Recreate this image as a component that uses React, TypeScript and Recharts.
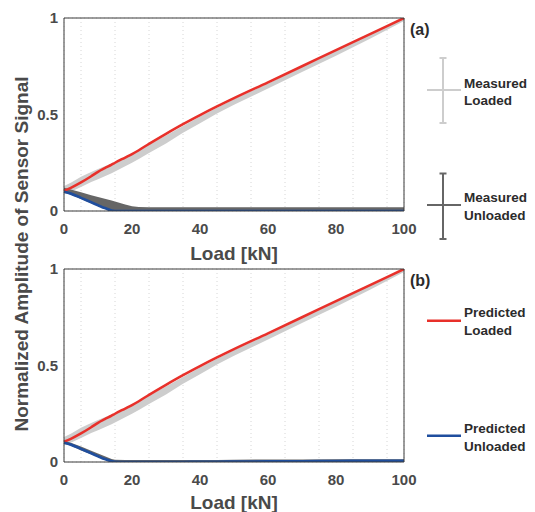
import React from 'react';
import {
  ComposedChart, Line, Area, XAxis, YAxis, CartesianGrid,
} from 'recharts';

const loads = [0, 2, 5, 8, 10, 12, 14, 15, 18, 20, 22, 25, 30, 35, 40, 45, 50, 60, 70, 80, 90, 100];

const predLoaded = [0.105, 0.12, 0.148, 0.18, 0.203, 0.222, 0.24, 0.25, 0.277, 0.295, 0.315, 0.348, 0.4, 0.45, 0.497, 0.542, 0.585, 0.667, 0.75, 0.834, 0.917, 1.0];

const measLoadedLow = [0.09, 0.1, 0.125, 0.15, 0.165, 0.18, 0.195, 0.205, 0.232, 0.25, 0.27, 0.3, 0.35, 0.405, 0.455, 0.505, 0.55, 0.635, 0.72, 0.805, 0.893, 0.985];
const measLoadedHigh = [0.13, 0.147, 0.177, 0.202, 0.217, 0.232, 0.246, 0.254, 0.281, 0.299, 0.316, 0.344, 0.391, 0.44, 0.49, 0.535, 0.58, 0.66, 0.745, 0.83, 0.915, 1.003];

const predUnloadedA = [0.1, 0.09, 0.068, 0.045, 0.03, 0.015, 0.002, 0, 0, 0, 0, 0, 0, 0, 0, 0, 0, 0, 0, 0, 0, 0];
const predUnloadedB = [0.1, 0.09, 0.068, 0.045, 0.03, 0.015, 0.004, 0.001, 0, 0, 0, 0, 0, 0, 0.001, 0.001, 0.002, 0.003, 0.004, 0.005, 0.006, 0.006];

const measUnloadedLowA = [0.095, 0.085, 0.062, 0.04, 0.027, 0.013, 0, 0, 0, 0, 0, 0, 0, 0, 0, 0, 0, 0, 0, 0, 0, 0];
const measUnloadedHighA = [0.12, 0.112, 0.097, 0.082, 0.072, 0.064, 0.054, 0.049, 0.034, 0.025, 0.021, 0.019, 0.019, 0.019, 0.019, 0.019, 0.019, 0.019, 0.019, 0.019, 0.019, 0.019];

const measUnloadedLowB = [0.095, 0.085, 0.06, 0.04, 0.027, 0.013, 0, 0, 0, 0, 0, 0, 0, 0, 0, 0, 0, 0, 0, 0, 0, 0];
const measUnloadedHighB = [0.11, 0.1, 0.08, 0.058, 0.044, 0.03, 0.016, 0.012, 0.01, 0.01, 0.01, 0.01, 0.01, 0.01, 0.01, 0.011, 0.012, 0.013, 0.013, 0.014, 0.014, 0.014];

const xTicks = [0, 20, 40, 60, 80, 100];
const yTicks = [0, 0.5, 1];
const xGrid = [5, 10, 15, 20, 25, 30, 35, 40, 45, 50, 55, 60, 65, 70, 75, 80, 85, 90, 95];
const yGrid = [0.1, 0.2, 0.3, 0.4, 0.5, 0.6, 0.7, 0.8, 0.9];

const FONT = '"Liberation Sans", Arial, Helvetica, sans-serif';
const TICK_COLOR = '#4a4a4a';
const AXIS_COLOR = '#3a3a3a';
const RED = '#e8302a';
const BLUE = '#1f4e9e';
const LIGHT = '#cdcdcd';
const DARK = '#666666';

function buildRows(pu: number[], muLo: number[], muHi: number[]) {
  return loads.map((x, i) => ({
    x,
    pl: predLoaded[i],
    ml: [measLoadedLow[i], measLoadedHigh[i]],
    pu: pu[i],
    mu: [muLo[i], muHi[i]],
  }));
}

const rowsA = buildRows(predUnloadedA, measUnloadedLowA, measUnloadedHighA);
const rowsB = buildRows(predUnloadedB, measUnloadedLowB, measUnloadedHighB);

const yFmt = (v: number) => (v === 0 ? '0' : v === 1 ? '1' : String(v));

function Panel({ top, rows }: { top: number; rows: any[] }) {
  const tickStyle = { fontFamily: FONT, fontSize: 15, fontWeight: 700, fill: TICK_COLOR };
  return (
    <div style={{ position: 'absolute', left: 0, top }}>
      <ComposedChart
        width={420}
        height={260}
        data={rows}
        margin={{ top: 18, right: 16, bottom: 19, left: 34 }}
      >
        <XAxis xAxisId="g" dataKey="x" type="number" domain={[0, 100]} ticks={xGrid} hide />
        <YAxis yAxisId="g" type="number" domain={[0, 1]} ticks={yGrid} hide />
        <CartesianGrid
          xAxisId="g"
          yAxisId="g"
          stroke="#d6d6d6"
          strokeDasharray="1 3"
          strokeWidth={1}
        />
        <XAxis
          dataKey="x"
          type="number"
          domain={[0, 100]}
          ticks={xTicks}
          height={30}
          tickLine={false}
          tickSize={6}
          tickMargin={6}
          axisLine={{ stroke: AXIS_COLOR, strokeWidth: 1 }}
          tick={tickStyle}
        />
        <YAxis
          type="number"
          domain={[0, 1]}
          ticks={yTicks}
          width={30}
          tickLine={false}
          tickSize={3}
          tickMargin={3}
          allowDataOverflow
          tickFormatter={yFmt}
          axisLine={{ stroke: AXIS_COLOR, strokeWidth: 1 }}
          tick={tickStyle}
        />
        <XAxis
          xAxisId="bi"
          dataKey="x"
          type="number"
          domain={[0, 100]}
          ticks={xTicks}
          mirror
          tick={false}
          tickSize={4}
          axisLine={false}
          tickLine={{ stroke: AXIS_COLOR }}
        />
        <XAxis
          xAxisId="t"
          orientation="top"
          dataKey="x"
          type="number"
          domain={[0, 100]}
          ticks={xTicks}
          mirror
          tick={false}
          tickSize={4}
          axisLine={{ stroke: AXIS_COLOR, strokeWidth: 1 }}
          tickLine={{ stroke: AXIS_COLOR }}
        />
        <YAxis
          yAxisId="li"
          type="number"
          domain={[0, 1]}
          ticks={yTicks}
          mirror
          tick={false}
          tickSize={4}
          axisLine={false}
          tickLine={{ stroke: AXIS_COLOR }}
        />
        <YAxis
          yAxisId="r"
          orientation="right"
          type="number"
          domain={[0, 1]}
          ticks={yTicks}
          mirror
          tick={false}
          tickSize={4}
          axisLine={{ stroke: AXIS_COLOR, strokeWidth: 1 }}
          tickLine={{ stroke: AXIS_COLOR }}
        />
        <Area
          dataKey="ml"
          type="linear"
          fill={LIGHT}
          fillOpacity={1}
          stroke="none"
          isAnimationActive={false}
          activeDot={false}
        />
        <Area
          dataKey="mu"
          type="linear"
          fill={DARK}
          fillOpacity={1}
          stroke="none"
          isAnimationActive={false}
          activeDot={false}
        />
        <Line
          dataKey="pl"
          type="monotone"
          stroke={RED}
          strokeWidth={2.5}
          dot={false}
          isAnimationActive={false}
        />
        <Line
          dataKey="pu"
          type="monotone"
          stroke={BLUE}
          strokeWidth={2.7}
          dot={false}
          isAnimationActive={false}
        />
      </ComposedChart>
    </div>
  );
}

function Overlay() {
  const lbl = { fontFamily: FONT, fontWeight: 700, fill: TICK_COLOR } as const;
  const leg = { fontFamily: FONT, fontWeight: 700, fontSize: 13.5, fill: '#2b2b2b' } as const;
  return (
    <svg
      width={535}
      height={512}
      style={{ position: 'absolute', left: 0, top: 0, pointerEvents: 'none' }}
    >
      <text
        {...lbl}
        fontSize={19}
        textAnchor="middle"
        transform="translate(28,254) rotate(-90)"
      >
        Normalized Amplitude of Sensor Signal
      </text>
      <text {...lbl} fontSize={19} x={234} y={259.5} textAnchor="middle">Load [kN]</text>
      <text {...lbl} fontSize={19} x={234} y={508.5} textAnchor="middle">Load [kN]</text>
      <text {...leg} fontSize={16} x={410} y={35}>(a)</text>
      <text {...leg} fontSize={16} x={410} y={286}>(b)</text>

      {/* Measured Loaded */}
      <line x1={443} y1={58} x2={443} y2={123} stroke={LIGHT} strokeWidth={2} />
      <line x1={439.5} y1={58} x2={446.5} y2={58} stroke={LIGHT} strokeWidth={2} />
      <line x1={439.5} y1={123} x2={446.5} y2={123} stroke={LIGHT} strokeWidth={2} />
      <line x1={427} y1={90} x2={461} y2={90} stroke={LIGHT} strokeWidth={2} />
      <text {...leg} x={464} y={87.5}>Measured</text>
      <text {...leg} x={464} y={105}>Loaded</text>

      {/* Measured Unloaded */}
      <line x1={443} y1={173.5} x2={443} y2={239} stroke={DARK} strokeWidth={2} />
      <line x1={439.5} y1={173.5} x2={446.5} y2={173.5} stroke={DARK} strokeWidth={2} />
      <line x1={439.5} y1={239} x2={446.5} y2={239} stroke={DARK} strokeWidth={2} />
      <line x1={427} y1={205} x2={461} y2={205} stroke={DARK} strokeWidth={2} />
      <text {...leg} x={464} y={202}>Measured</text>
      <text {...leg} x={464} y={219.5}>Unloaded</text>

      {/* Predicted Loaded */}
      <line x1={427} y1={320.7} x2={461} y2={320.7} stroke={RED} strokeWidth={2.5} />
      <text {...leg} x={464} y={317}>Predicted</text>
      <text {...leg} x={464} y={335}>Loaded</text>

      {/* Predicted Unloaded */}
      <line x1={427} y1={435.7} x2={461} y2={435.7} stroke={BLUE} strokeWidth={2.5} />
      <text {...leg} x={464} y={432.5}>Predicted</text>
      <text {...leg} x={464} y={450.5}>Unloaded</text>
    </svg>
  );
}

export default function App() {
  return (
    <div style={{ position: 'absolute', left: 0, top: 0, width: 535, height: 512, background: '#fff' }}>
      <Panel top={0} rows={rowsA} />
      <Panel top={251} rows={rowsB} />
      <Overlay />
    </div>
  );
}
